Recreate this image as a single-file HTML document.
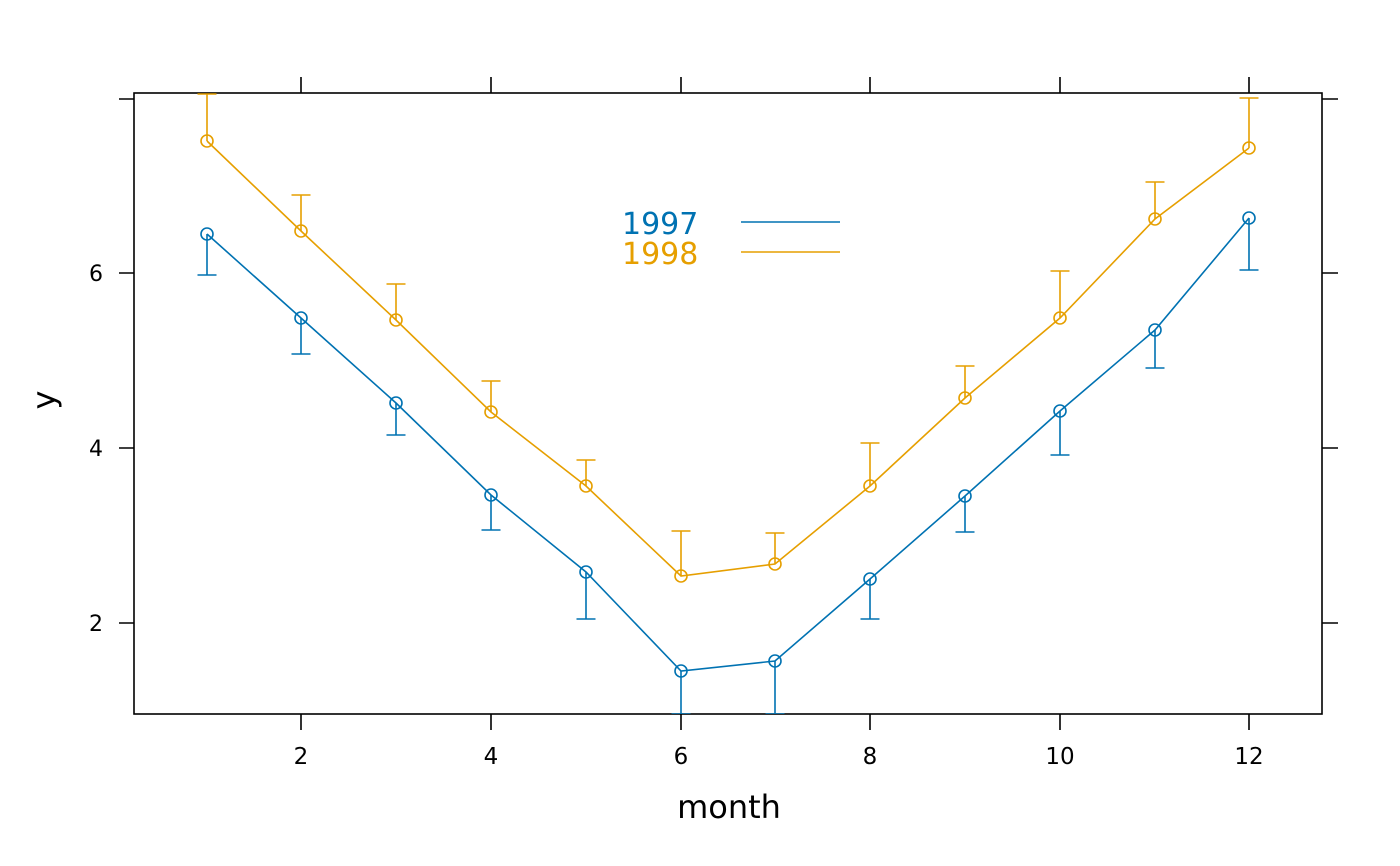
<!DOCTYPE html>
<html><head><meta charset="utf-8"><style>
html,body{margin:0;padding:0;background:#fff;}
svg{display:block;}
text{font-family:"DejaVu Sans","Liberation Sans",sans-serif;}
</style></head><body>
<svg width="1400" height="866" viewBox="0 0 1400 866" xmlns="http://www.w3.org/2000/svg">
<defs><clipPath id="c"><rect x="134" y="93" width="1188" height="621"/></clipPath></defs>
<g stroke="#000" stroke-width="1.6" fill="none">
<rect x="134" y="93" width="1188" height="621"/>
<path d="M301,93V77M491,93V77M681,93V77M870,93V77M1060,93V77M1249,93V77
M301,714V730M491,714V730M681,714V730M870,714V730M1060,714V730M1249,714V730
M134,99H119M134,273H119M134,448H119M134,623H119
M1322,99H1338M1322,273H1338M1322,448H1338M1322,623H1338"/>
</g>
<g font-size="23" text-anchor="middle" fill="#000">
<text x="301" y="764">2</text><text x="491" y="764">4</text><text x="681" y="764">6</text>
<text x="870" y="764">8</text><text x="1060" y="764">10</text><text x="1249" y="764">12</text>
</g>
<g font-size="22" text-anchor="middle" fill="#000">
<text x="96" y="281">6</text><text x="96" y="456">4</text><text x="96" y="631">2</text>
</g>
<text x="729" y="818" font-size="32" text-anchor="middle">month</text>
<text transform="translate(55,400) rotate(-90)" font-size="32" text-anchor="middle">y</text>
<g clip-path="url(#c)" fill="none" stroke-width="1.6">
<g stroke="#0072B2">
<polyline points="207,234 301,318 396,403 491,495 586,572 681,671 775,661 870,579 965,496 1060,411 1155,330 1249,218"/>
<path d="M207,234V275M197.5,275H216.5 M301,318V354M291.5,354H310.5 M396,403V435M386.5,435H405.5 M491,495V530M481.5,530H500.5 M586,572V619M576.5,619H595.5 M681,671V714M671.5,714H690.5 M775,661V714M765.5,714H784.5 M870,579V619M860.5,619H879.5 M965,496V532M955.5,532H974.5 M1060,411V455M1050.5,455H1069.5 M1155,330V368M1145.5,368H1164.5 M1249,218V270M1239.5,270H1258.5"/>
<g><circle cx="207" cy="234" r="6"/><circle cx="301" cy="318" r="6"/><circle cx="396" cy="403" r="6"/><circle cx="491" cy="495" r="6"/><circle cx="586" cy="572" r="6"/><circle cx="681" cy="671" r="6"/><circle cx="775" cy="661" r="6"/><circle cx="870" cy="579" r="6"/><circle cx="965" cy="496" r="6"/><circle cx="1060" cy="411" r="6"/><circle cx="1155" cy="330" r="6"/><circle cx="1249" cy="218" r="6"/></g>
</g>
<g stroke="#E69F00">
<polyline points="207,141 301,231 396,320 491,412 586,486 681,576 775,564 870,486 965,398 1060,318 1155,219 1249,148"/>
<path d="M207,141V94M197.5,94H216.5 M301,231V195M291.5,195H310.5 M396,320V284M386.5,284H405.5 M491,412V381M481.5,381H500.5 M586,486V460M576.5,460H595.5 M681,576V531M671.5,531H690.5 M775,564V533M765.5,533H784.5 M870,486V443M860.5,443H879.5 M965,398V366M955.5,366H974.5 M1060,318V271M1050.5,271H1069.5 M1155,219V182M1145.5,182H1164.5 M1249,148V98M1239.5,98H1258.5"/>
<g><circle cx="207" cy="141" r="6"/><circle cx="301" cy="231" r="6"/><circle cx="396" cy="320" r="6"/><circle cx="491" cy="412" r="6"/><circle cx="586" cy="486" r="6"/><circle cx="681" cy="576" r="6"/><circle cx="775" cy="564" r="6"/><circle cx="870" cy="486" r="6"/><circle cx="965" cy="398" r="6"/><circle cx="1060" cy="318" r="6"/><circle cx="1155" cy="219" r="6"/><circle cx="1249" cy="148" r="6"/></g>
</g>
</g>
<text x="622" y="234" font-size="30" fill="#0072B2">1997</text>
<text x="622" y="264" font-size="30" fill="#E69F00">1998</text>
<path d="M741,222H840" stroke="#0072B2" stroke-width="1.6"/>
<path d="M741,252H840" stroke="#E69F00" stroke-width="1.6"/>
</svg>
</body></html>
